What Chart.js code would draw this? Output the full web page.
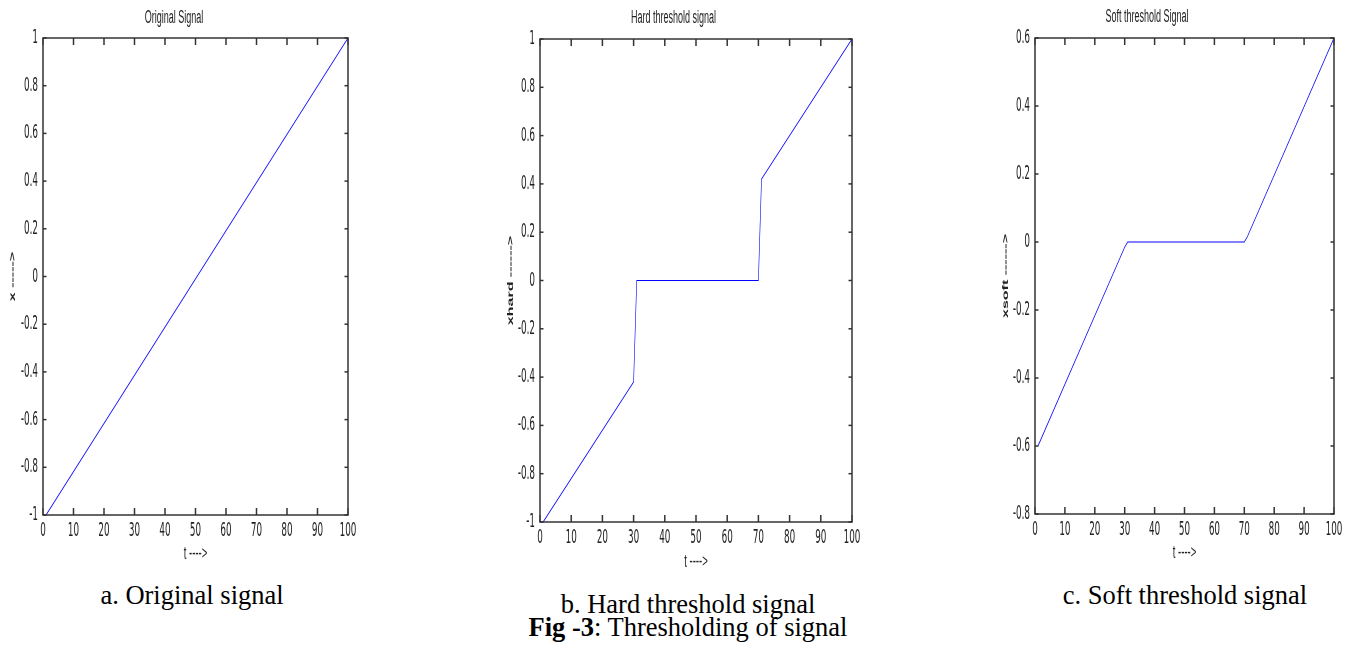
<!DOCTYPE html>
<html>
<head>
<meta charset="utf-8">
<title>Fig -3: Thresholding of signal</title>
<script src="https://cdn.jsdelivr.net/npm/chart.js@4.4.1/dist/chart.umd.min.js"></script>
<style>
  html, body { margin: 0; padding: 0; background: #fff; }
  body { width: 1349px; height: 650px; position: relative; overflow: hidden; }
  /* the plots in the figure are squeezed sideways, so each chart is drawn twice as wide and scaled back */
  .plot { position: absolute; top: 0; transform: scaleX(0.5); transform-origin: 0 0; }
  .cap {
    position: absolute; width: 440px; text-align: center;
    font-family: 'Liberation Serif', 'Times New Roman', serif;
    font-size: 26.5px; line-height: 28px; color: #000; white-space: nowrap;
  }
</style>
</head>
<body>
<div class="plot" style="left:0px;width:730px;height:575px"><canvas id="chart-orig"></canvas></div>
<div class="plot" style="left:495px;width:740px;height:580px"><canvas id="chart-hard"></canvas></div>
<div class="plot" style="left:960px;width:778px;height:575px"><canvas id="chart-soft"></canvas></div>

<div class="cap" style="left:-28px;top:581px">a. Original signal</div>
<div class="cap" style="left:468px;top:590px">b. Hard threshold signal</div>
<div class="cap" style="left:468px;top:613px"><b>Fig -3</b>: Thresholding of signal</div>
<div class="cap" style="left:965px;top:581px">c. Soft threshold signal</div>

<script>
// values: t on x, signal on y. Only the corners are listed,
// the segments between them are straight.
const tOrig = [1, 100];
const xOrig = [-1, 1];

const tHard = [1, 30, 31, 70, 71, 100];
const xHard = [-1, -0.42, 0, 0, 0.42, 1];

const tSoft = [1, 30, 31, 70, 71, 100];
const xSoft = [-0.6, -0.015, 0, 0, 0.015, 0.6];

const tTicks = [0, 10, 20, 30, 40, 50, 60, 70, 80, 90, 100];
const yTicksFull = [-1, -0.8, -0.6, -0.4, -0.2, 0, 0.2, 0.4, 0.6, 0.8, 1];
const yTicksSoft = [-0.8, -0.6, -0.4, -0.2, 0, 0.2, 0.4, 0.6];

const INK = '#222';
const AXIS = '#333';
const SANS = "'Liberation Sans', Arial, sans-serif";
const NARROW = "'Liberation Sans Narrow', 'Arial Narrow', 'DejaVu Sans Condensed', sans-serif";
const TICK = 7;

// MATLAB-style box: frame on all four sides, ticks pointing inward top/bottom and left/right.
// Vertical strokes are doubled because the canvas is squeezed to half its width.
function seg(ctx, x1, y1, x2, y2, w) {
  ctx.lineWidth = w;
  ctx.beginPath();
  ctx.moveTo(x1, y1);
  ctx.lineTo(x2, y2);
  ctx.stroke();
}

const matlabBox = {
  id: 'matlabBox',
  afterDatasetsDraw(chart) {
    const { ctx, chartArea: a, scales: { x, y } } = chart;
    ctx.save();
    ctx.strokeStyle = AXIS;
    x.ticks.forEach((t) => {
      const px = x.getPixelForValue(t.value);
      seg(ctx, px, a.bottom, px, a.bottom - TICK, 3);
      seg(ctx, px, a.top, px, a.top + TICK, 3);
    });
    y.ticks.forEach((t) => {
      const py = y.getPixelForValue(t.value);
      seg(ctx, a.left, py, a.left + TICK, py, 1.5);
      seg(ctx, a.right, py, a.right - TICK, py, 1.5);
    });
    seg(ctx, a.left - 1.5, a.top, a.right + 1.5, a.top, 1.5);
    seg(ctx, a.left - 1.5, a.bottom, a.right + 1.5, a.bottom, 1.5);
    seg(ctx, a.left, a.top, a.left, a.bottom, 3);
    seg(ctx, a.right, a.top, a.right, a.bottom, 3);
    ctx.restore();
  },
};

function makePlot(id, o) {
  const points = o.t.map((t, i) => ({ x: t, y: o.v[i] }));
  return new Chart(document.getElementById(id), {
    type: 'line',
    data: {
      datasets: [{
        data: points,
        borderColor: '#0000ff', borderWidth: 1.2,
        pointRadius: 0, tension: 0, fill: false,
      }],
    },
    options: {
      responsive: true, maintainAspectRatio: false, animation: false,
      layout: { padding: { left: 0, right: o.padRight, top: 0, bottom: 0 } },
      plugins: {
        legend: { display: false },
        tooltip: { enabled: false },
        title: {
          display: true, text: o.title, color: INK,
          font: { family: SANS, size: 18, weight: 'normal' },
          padding: { top: o.titleTop, bottom: o.titleBottom },
        },
      },
      scales: {
        x: {
          type: 'linear', min: 0, max: 100,
          afterBuildTicks: (s) => { s.ticks = tTicks.map((v) => ({ value: v })); },
          afterFit: (s) => { s.height = o.xHeight; },
          grid: { display: false, drawTicks: false },
          border: { display: false },
          ticks: {
            color: INK, padding: 4.5, maxRotation: 0, autoSkip: false,
            font: { family: NARROW, size: 19.5 },
            callback: (v) => String(v),
          },
          title: {
            display: true, text: 't ---->', color: INK,
            font: { family: SANS, size: 19 },
            padding: { top: 0, bottom: o.xTitleBottom },
          },
        },
        y: {
          type: 'linear', min: o.yMin, max: o.yMax,
          afterBuildTicks: (s) => { s.ticks = o.yTicks.map((v) => ({ value: v })); },
          afterFit: (s) => { s.width = o.yWidth; },
          grid: { display: false, drawTicks: false },
          border: { display: false },
          ticks: {
            color: INK, padding: 10, autoSkip: false,
            font: { family: NARROW, size: 19.5 },
            callback: (v) => String(v),
          },
          title: {
            display: true, text: o.yLabel, color: INK,
            font: { family: SANS, size: 16, weight: 'bold' },
            padding: { top: o.yTitleLeft, bottom: 0 },
          },
        },
      },
    },
    plugins: [matlabBox],
  });
}

makePlot('chart-orig', {
  t: tOrig, v: xOrig, title: 'Original Signal', yLabel: 'x ----->',
  yMin: -1, yMax: 1, yTicks: yTicksFull,
  padRight: 34, yWidth: 86, yTitleLeft: 16.4,
  titleTop: 7.2, titleBottom: 9.2, xHeight: 60, xTitleBottom: 9.6,
});

makePlot('chart-hard', {
  t: tHard, v: xHard, title: 'Hard threshold signal', yLabel: 'xhard ------>',
  yMin: -1, yMax: 1, yTicks: yTicksFull,
  padRight: 26, yWidth: 90, yTitleLeft: 21.8,
  titleTop: 7.2, titleBottom: 10.2, xHeight: 58, xTitleBottom: 6.6,
});

makePlot('chart-soft', {
  t: tSoft, v: xSoft, title: 'Soft threshold Signal', yLabel: 'xsoft ------>',
  yMin: -0.8, yMax: 0.6, yTicks: yTicksSoft,
  padRight: 30, yWidth: 150, yTitleLeft: 82.4,
  titleTop: 6.7, titleBottom: 9.7, xHeight: 61, xTitleBottom: 10.6,
});
</script>
</body>
</html>
